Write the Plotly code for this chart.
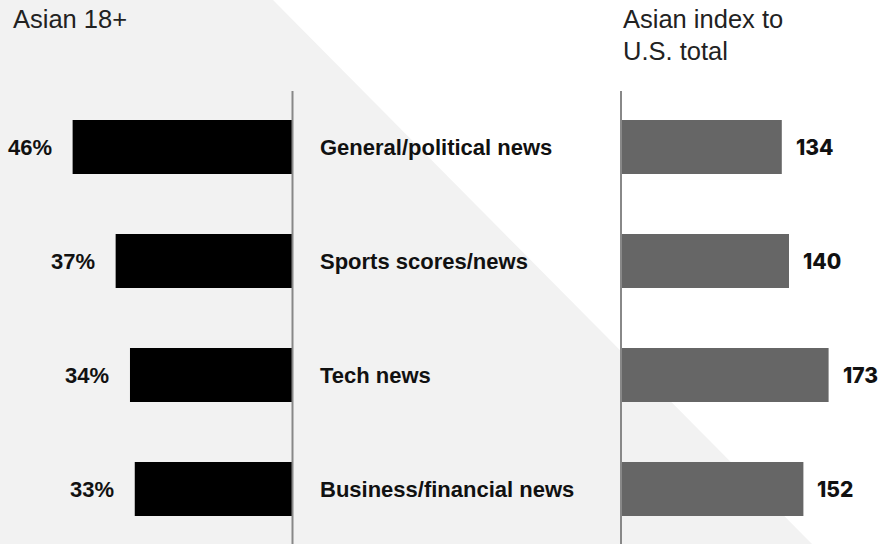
import plotly.graph_objects as go

categories = [
    "General/political news",
    "Sports scores/news",
    "Tech news",
    "Business/financial news",
]
share_pct = [46, 37, 34, 33]
index_vals = [134, 140, 173, 152]

W, H = 883, 544
BOLD = "Liberation Sans, Arial, sans-serif"

fig = go.Figure()

fig.add_trace(go.Bar(
    y=categories, x=share_pct, orientation="h",
    marker=dict(color="#000000", line=dict(width=0)),
    xaxis="x", yaxis="y", hoverinfo="skip", showlegend=False,
))
fig.add_trace(go.Bar(
    y=categories, x=index_vals, orientation="h",
    marker=dict(color="#666666", line=dict(width=0)),
    xaxis="x2", yaxis="y", hoverinfo="skip", showlegend=False,
))

annotations = []
for cat, pct, idx in zip(categories, share_pct, index_vals):
    annotations.append(dict(
        x=pct, y=cat, xref="x", yref="y", text=f"<b>{pct}%</b>",
        xanchor="right", yanchor="middle", xshift=-19, showarrow=False,
        font=dict(family=BOLD, size=22, color="#111111"),
    ))
    annotations.append(dict(
        x=idx, y=cat, xref="x2", yref="y", text=f"{idx}",
        xanchor="left", yanchor="middle", xshift=12, showarrow=False,
        font=dict(family="Inter, sans-serif", size=21, color="#111111", weight=800),
    ))
    annotations.append(dict(
        x=318 / W, y=cat, xref="paper", yref="y", text=f"<b>{cat}</b>",
        xanchor="left", yanchor="middle", showarrow=False,
        font=dict(family=BOLD, size=22, color="#111111"),
    ))

# column headers
for txt, x, y in [("Asian 18+", 11, 18.5), ("Asian index to", 621, 18.5),
                  ("U.S. total", 621, 51)]:
    annotations.append(dict(
        x=x / W, y=1 - y / H, xref="paper", yref="paper", text=txt,
        xanchor="left", yanchor="middle", showarrow=False,
        font=dict(family="Liberation Sans, Arial, sans-serif", size=25.5, color="#222222"),
    ))

shapes = [
    # light grey diagonal backdrop
    dict(type="path", xref="paper", yref="paper", layer="below",
         path=f"M 0,1 L {273 / W},1 L {812 / W},0 L 0,0 Z",
         fillcolor="#f2f2f2", line=dict(width=0)),
    dict(type="line", xref="paper", yref="paper", x0=292.5 / W, x1=292.5 / W,
         y0=0, y1=1 - 91 / H, line=dict(color="#888888", width=2)),
    dict(type="line", xref="paper", yref="paper", x0=621 / W, x1=621 / W,
         y0=0, y1=1 - 91 / H, line=dict(color="#888888", width=2)),
]

fig.update_layout(
    width=W, height=H,
    margin=dict(l=0, r=0, t=0, b=0),
    paper_bgcolor="#ffffff", plot_bgcolor="rgba(0,0,0,0)",
    bargap=0.526,
    xaxis=dict(domain=[0, 292.5 / W], range=[292.5 / 4.78, 0], visible=False,
               fixedrange=True),
    xaxis2=dict(domain=[621 / W, 1], range=[0, 262 / 1.2], visible=False,
                fixedrange=True),
    yaxis=dict(type="category", categoryarray=categories,
               range=[(H - 147) / 114, -147 / 114], visible=False, fixedrange=True),
    shapes=shapes,
    annotations=annotations,
)

fig.write_html(
    "out.html",
    config={"displayModeBar": False},
    post_script="document.body.style.margin='0';document.body.style.overflow='hidden';",
)
